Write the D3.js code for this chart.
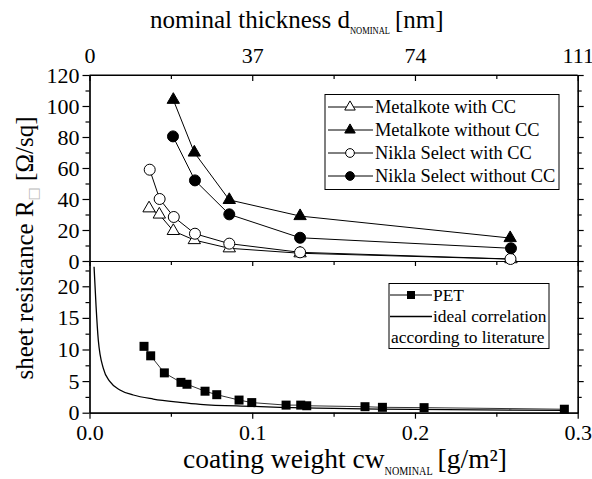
<!DOCTYPE html>
<html>
<head>
<meta charset="utf-8">
<script src="https://cdn.jsdelivr.net/npm/d3@7"></script>
<style>
  body { margin: 0; background: #fff; }
</style>
</head>
<body>
<div id="chart"></div>
<script>
// data
var cwMetalWith = [0.0366, 0.0429, 0.0515, 0.0644, 0.0859, 0.1294, 0.259]
var rMetalWith = [34, 30, 19.4, 13.5, 8.2, 5.0, 1.2]
var cwMetalWithout = [0.0515, 0.0644, 0.0859, 0.1294, 0.2585]
var rMetalWithout = [104, 70, 39.4, 29, 14.8]
var cwNiklaWith = [0.037, 0.0431, 0.0518, 0.0648, 0.0859, 0.1294, 0.2587]
var rNiklaWith = [58.9, 40, 28.4, 17.6, 11.2, 5.6, 1.3]
var cwNiklaWithout = [0.0513, 0.0648, 0.0859, 0.1294, 0.259]
var rNiklaWithout = [80.4, 52, 30.1, 15, 8.2]

var cwPET = [0.0335, 0.0376, 0.046, 0.0562, 0.0599, 0.071, 0.0782, 0.0919, 0.0997, 0.1208, 0.1298, 0.1335, 0.1693, 0.18, 0.2056, 0.2918]
var rPET = [10.5, 9.0, 6.3, 4.8, 4.5, 3.4, 2.85, 2.0, 1.6, 1.2, 1.2, 1.1, 0.95, 0.85, 0.8, 0.55]

var cwIdeal = [0.0028, 0.004, 0.0054, 0.0085, 0.0126, 0.0187, 0.0269, 0.0392, 0.0556, 0.068, 0.1, 0.117, 0.15, 0.178, 0.22, 0.26, 0.293]
var rIdeal = [23.1, 17.0, 11.5, 7.0, 4.9, 3.6, 2.8, 2.16, 1.64, 1.33, 1.0, 0.85, 0.68, 0.56, 0.48, 0.42, 0.38]

var topTickLabels = ["0", "37", "74", "111"]
var topLegendNames = ["Metalkote with CC", "Metalkote without CC", "Nikla Select with CC", "Nikla Select without CC"]

// layout
var W = 592, H = 479
var pLeft = 89.5, pRight = 577.7, pTop = 75, pMid = 261, pBottom = 412.7
var serif = '"Liberation Serif", "Times New Roman", serif'

var svg = d3.select("#chart")
    .append("svg")
    .attr("width", W)
    .attr("height", H)
    .style("font-family", serif)

var x = d3.scaleLinear().domain([0, 0.3]).range([pLeft, pRight])
var xTop = d3.scaleLinear().domain([0, 111]).range([pLeft, pRight])
var yTop = d3.scaleLinear().domain([0, 120]).range([pMid, pTop])
var yBot = d3.scaleLinear().domain([0, 24]).range([pBottom, pMid])

function styleAxis(g) {
    g.attr("font-family", serif).attr("font-size", 22)
    g.selectAll("path, line").attr("stroke", "#000").attr("stroke-width", 1.2)
}

// x major/minor values
var xMajor = [0, 0.1, 0.2, 0.3]
var xMinor = [0.05, 0.15, 0.25]

// bottom axis
svg.append("g").attr("transform", "translate(0," + pBottom + ")")
    .call(d3.axisBottom(x).tickValues(xMajor).tickFormat(d3.format(".1f")).tickSizeInner(6).tickSizeOuter(0).tickPadding(6))
    .call(styleAxis)
svg.append("g").attr("transform", "translate(0," + pBottom + ")")
    .call(d3.axisBottom(x).tickValues(xMinor).tickFormat("").tickSizeInner(4).tickSizeOuter(0))
    .call(styleAxis)

// middle axis (bottom of top panel)
svg.append("g").attr("transform", "translate(0," + pMid + ")")
    .call(d3.axisBottom(x).tickValues(xMajor).tickFormat("").tickSizeInner(5).tickSizeOuter(0))
    .call(styleAxis)
svg.append("g").attr("transform", "translate(0," + pMid + ")")
    .call(d3.axisBottom(x).tickValues(xMinor).tickFormat("").tickSizeInner(4).tickSizeOuter(0))
    .call(styleAxis)

// top axis, ticks inward
svg.append("g").attr("transform", "translate(0," + pTop + ")")
    .call(d3.axisTop(xTop).tickValues(topTickLabels.map(Number)).tickFormat(function(d) { return String(d) }).tickSizeInner(-6).tickSizeOuter(0).tickPadding(12))
    .call(styleAxis)
svg.append("g").attr("transform", "translate(0," + pTop + ")")
    .call(d3.axisTop(xTop).tickValues([18.5, 55.5, 92.5]).tickFormat("").tickSizeInner(-4).tickSizeOuter(0))
    .call(styleAxis)

// left axes
svg.append("g").attr("transform", "translate(" + pLeft + ",0)")
    .call(d3.axisLeft(yTop).tickValues(d3.range(0, 121, 20)).tickSizeInner(7).tickSizeOuter(0).tickPadding(3))
    .call(styleAxis)
svg.append("g").attr("transform", "translate(" + pLeft + ",0)")
    .call(d3.axisLeft(yTop).tickValues(d3.range(10, 120, 20)).tickFormat("").tickSizeInner(4).tickSizeOuter(0))
    .call(styleAxis)
svg.append("g").attr("transform", "translate(" + pLeft + ",0)")
    .call(d3.axisLeft(yBot).tickValues([0, 5, 10, 15, 20]).tickSizeInner(7).tickSizeOuter(0).tickPadding(3))
    .call(styleAxis)
svg.append("g").attr("transform", "translate(" + pLeft + ",0)")
    .call(d3.axisLeft(yBot).tickValues([2.5, 7.5, 12.5, 17.5, 22.5]).tickFormat("").tickSizeInner(4).tickSizeOuter(0))
    .call(styleAxis)

// right axes, no labels
svg.append("g").attr("transform", "translate(" + pRight + ",0)")
    .call(d3.axisRight(yTop).tickValues(d3.range(0, 121, 20)).tickFormat("").tickSizeInner(6).tickSizeOuter(0))
    .call(styleAxis)
svg.append("g").attr("transform", "translate(" + pRight + ",0)")
    .call(d3.axisRight(yTop).tickValues(d3.range(10, 120, 20)).tickFormat("").tickSizeInner(4).tickSizeOuter(0))
    .call(styleAxis)
svg.append("g").attr("transform", "translate(" + pRight + ",0)")
    .call(d3.axisRight(yBot).tickValues([5, 10, 15, 20]).tickFormat("").tickSizeInner(6).tickSizeOuter(0))
    .call(styleAxis)
svg.append("g").attr("transform", "translate(" + pRight + ",0)")
    .call(d3.axisRight(yBot).tickValues([2.5, 7.5, 12.5, 17.5, 22.5]).tickFormat("").tickSizeInner(4).tickSizeOuter(0))
    .call(styleAxis)

// symbols
var triArea = 66, circArea = 95, sqArea = 81
function marker(type, area) {
    return d3.symbol().type(type).size(area)()
}

var topSeries = [
    { cw: cwMetalWith, r: rMetalWith, sym: d3.symbolTriangle, area: triArea, fill: "#fff" },
    { cw: cwMetalWithout, r: rMetalWithout, sym: d3.symbolTriangle, area: triArea, fill: "#000" },
    { cw: cwNiklaWith, r: rNiklaWith, sym: d3.symbolCircle, area: circArea, fill: "#fff" },
    { cw: cwNiklaWithout, r: rNiklaWithout, sym: d3.symbolCircle, area: circArea, fill: "#000" }
]

var lineTop = d3.line().x(function(d) { return x(d[0]) }).y(function(d) { return yTop(d[1]) })

topSeries.forEach(function(s) {
    var pts = s.cw.map(function(c, i) { return [c, s.r[i]] })
    svg.append("path")
        .attr("d", lineTop(pts))
        .attr("fill", "none")
        .attr("stroke", "#000")
        .attr("stroke-width", 1)
    svg.selectAll(null)
        .data(pts)
        .enter()
        .append("path")
        .attr("d", marker(s.sym, s.area))
        .attr("transform", function(d) { return "translate(" + x(d[0]) + "," + yTop(d[1]) + ")" })
        .attr("fill", s.fill)
        .attr("stroke", "#000")
        .attr("stroke-width", 1)
})

// bottom panel
var ideal = cwIdeal.map(function(c, i) { return [c, rIdeal[i]] })
svg.append("path")
    .attr("d", d3.line().curve(d3.curveMonotoneX).x(function(d) { return x(d[0]) }).y(function(d) { return yBot(d[1]) })(ideal))
    .attr("fill", "none")
    .attr("stroke", "#000")
    .attr("stroke-width", 1.3)

var pet = cwPET.map(function(c, i) { return [c, rPET[i]] })
svg.append("path")
    .attr("d", d3.line().x(function(d) { return x(d[0]) }).y(function(d) { return yBot(d[1]) })(pet))
    .attr("fill", "none")
    .attr("stroke", "#333")
    .attr("stroke-width", 1)
svg.selectAll(null)
    .data(pet)
    .enter()
    .append("path")
    .attr("d", marker(d3.symbolSquare, sqArea))
    .attr("transform", function(d) { return "translate(" + x(d[0]) + "," + yBot(d[1]) + ")" })
    .attr("fill", "#000")

// frame line on top
svg.append("line").attr("x1", pLeft).attr("x2", pRight).attr("y1", pTop).attr("y2", pTop).attr("stroke", "#000").attr("stroke-width", 1.2)

// top legend
var lg = svg.append("g")
lg.append("rect").attr("x", 325).attr("y", 94.5).attr("width", 234).attr("height", 95)
    .attr("fill", "#fff").attr("stroke", "#000").attr("stroke-width", 1)
topSeries.forEach(function(s, i) {
    var yy = 107 + i * 23
    lg.append("line").attr("x1", 328).attr("x2", 373).attr("y1", yy).attr("y2", yy).attr("stroke", "#000")
    lg.append("path").attr("d", marker(s.sym, s.sym === d3.symbolCircle ? 60 : 48))
        .attr("transform", "translate(350," + yy + ")")
        .attr("fill", s.fill).attr("stroke", "#000")
    lg.append("text").attr("x", 375).attr("y", yy + 6).attr("font-size", 18.4).text(topLegendNames[i])
})

// bottom legend
var bl = svg.append("g")
bl.append("rect").attr("x", 389).attr("y", 283.5).attr("width", 160).attr("height", 65)
    .attr("fill", "#fff").attr("stroke", "#000").attr("stroke-width", 1)
bl.append("line").attr("x1", 390).attr("x2", 432).attr("y1", 295).attr("y2", 295).attr("stroke", "#000")
bl.append("path").attr("d", marker(d3.symbolSquare, 64)).attr("transform", "translate(411,295)").attr("fill", "#000")
bl.append("text").attr("x", 433).attr("y", 301).attr("font-size", 17.4).text("PET")
bl.append("line").attr("x1", 390).attr("x2", 432).attr("y1", 316.5).attr("y2", 316.5).attr("stroke", "#000").attr("stroke-width", 1.3)
bl.append("text").attr("x", 433).attr("y", 322).attr("font-size", 17.4).text("ideal correlation")
bl.append("text").attr("x", 391).attr("y", 343).attr("font-size", 17.4).text("according to literature")

// axis titles
var tTop = svg.append("text").attr("x", 150).attr("y", 28).attr("font-size", 25)
tTop.append("tspan").text("nominal thickness d")
tTop.append("tspan").attr("dy", 6).attr("font-size", 11).attr("textLength", 40).attr("lengthAdjust", "spacingAndGlyphs").text("NOMINAL")
tTop.append("tspan").attr("dy", -6).attr("dx", 5).text("[nm]")

var tBot = svg.append("text").attr("x", 183).attr("y", 468).attr("font-size", 27.5)
tBot.append("tspan").text("coating weight cw")
tBot.append("tspan").attr("dy", 7).attr("font-size", 12).attr("textLength", 48).attr("lengthAdjust", "spacingAndGlyphs").text("NOMINAL")
tBot.append("tspan").attr("dy", -7).attr("dx", 5).text("[g/m²]")

var tY = svg.append("text").attr("transform", "translate(33,248) rotate(-90)").attr("text-anchor", "middle").attr("font-size", 25)
tY.append("tspan").text("sheet resistance R")
tY.append("tspan").attr("dy", 5).attr("font-size", 14).attr("font-family", '"DejaVu Sans", sans-serif').attr("fill", "#bbb").text("□")
tY.append("tspan").attr("dy", -5).text(" [Ω/sq]")
</script>
</body>
</html>
